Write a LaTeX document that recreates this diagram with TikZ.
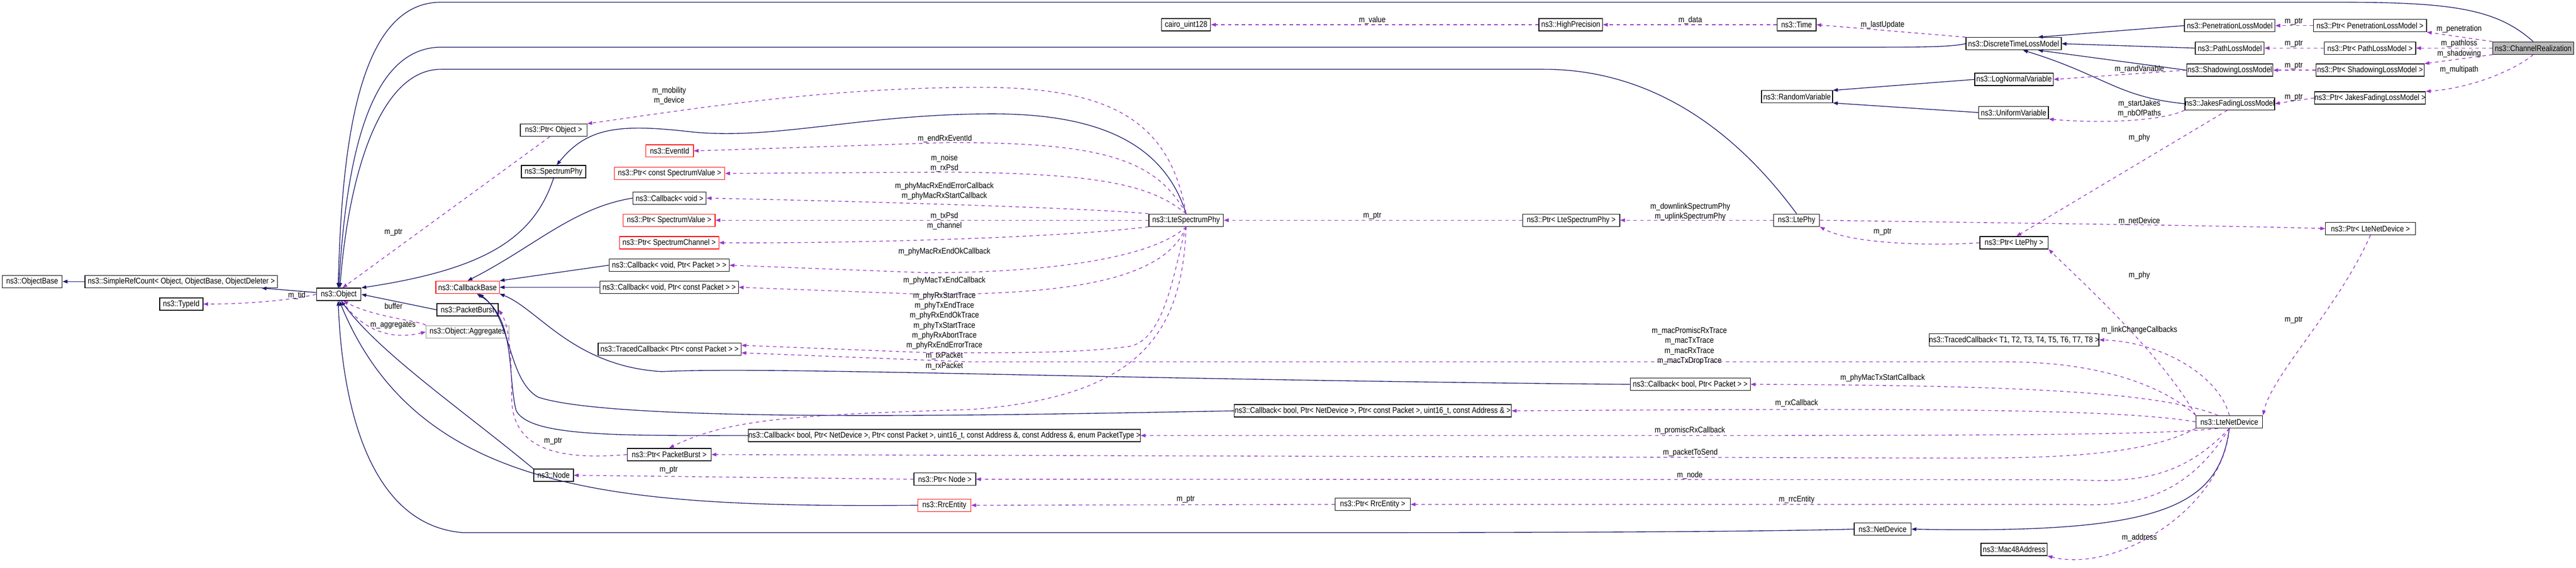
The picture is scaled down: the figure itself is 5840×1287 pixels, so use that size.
\documentclass[tikz,border=0pt]{standalone}
\usepackage{fontspec}
\setmainfont{Liberation Sans}[FakeStretch=0.86]
\usepackage{tikz}
\usetikzlibrary{arrows.meta}
\definecolor{dxnavy}{RGB}{25,25,112}
\definecolor{dxpurple}{RGB}{153,51,204}
\definecolor{dxred}{RGB}{255,0,0}

\begin{document}
\begin{tikzpicture}[x=0.01cm, y=-0.01cm,
  box/.style={draw=black, line width=0.45pt, fill=white, minimum height=0.28cm, inner sep=0pt, font=\fontsize{5.3}{6}\selectfont},
  redbox/.style={box, draw=dxred},
  greybox/.style={box, draw=gray!50},
  lbl/.style={inner sep=0pt, align=center, font=\fontsize{5.3}{6.4}\selectfont},
  inh/.style={draw=dxnavy, line width=0.45pt, -{Triangle[length=0.11cm,width=0.08cm]}},
  use/.style={draw=dxpurple, line width=0.45pt, dashed, dash pattern=on 2.2pt off 2.2pt, -{Triangle[length=0.11cm,width=0.08cm]}}]
\useasboundingbox (0,0) rectangle (5840,1287);

% Base classes
\node[box, minimum width=1.36cm] (objbase) at (73,638) {ns3::ObjectBase};
\node[box, minimum width=4.36cm] (simple) at (411,638) {ns3::SimpleRefCount< Object, ObjectBase, ObjectDeleter >};
\node[box, minimum width=1.01cm] (object) at (768,667) {ns3::Object};
\node[box, minimum width=0.98cm] (typeid) at (411,689) {ns3::TypeId};

% Column left of LteSpectrumPhy
\node[box, minimum width=1.51cm] (pobj) at (1255,295) {ns3::Ptr< Object >};
\node[box, minimum width=1.46cm] (sphy) at (1255,389) {ns3::SpectrumPhy};
\node[redbox, minimum width=1.08cm] (evid) at (1518,342) {ns3::EventId};
\node[redbox, minimum width=2.50cm] (pcsv) at (1518,393) {ns3::Ptr< const SpectrumValue >};
\node[box, minimum width=1.66cm] (cbv) at (1518,449) {ns3::Callback< void >};
\node[redbox, minimum width=2.08cm] (psv) at (1517,499) {ns3::Ptr< SpectrumValue >};
\node[redbox, minimum width=2.25cm] (pschan) at (1517,550) {ns3::Ptr< SpectrumChannel >};
\node[box, minimum width=2.72cm] (cbvp) at (1517,601) {ns3::Callback< void, Ptr< Packet > >};
\node[redbox, minimum width=1.44cm] (cbase) at (1060,651) {ns3::CallbackBase};
\node[box, minimum width=3.14cm] (cbvcp) at (1517,651) {ns3::Callback< void, Ptr< const Packet > >};
\node[box, minimum width=1.39cm] (pburst) at (1060,702) {ns3::PacketBurst};
\node[greybox, minimum width=1.88cm] (agg) at (1060,752) {ns3::Object::Aggregates};
\node[box, minimum width=3.24cm] (tcb) at (1518,791) {ns3::TracedCallback< Ptr< const Packet > >};
\node[box, minimum width=8.73cm] (cbe) at (2141,987) {ns3::Callback< bool, Ptr< NetDevice >, Ptr< const Packet >, uint16\_t, const Address \&, const Address \&, enum PacketType >};
\node[box, minimum width=1.90cm] (ppb) at (1517,1030) {ns3::Ptr< PacketBurst >};
\node[box, minimum width=0.90cm] (node) at (1255,1077) {ns3::Node};
\node[box, minimum width=1.40cm] (pnode) at (2142,1086) {ns3::Ptr< Node >};
\node[redbox, minimum width=1.20cm] (rrc) at (2141,1145) {ns3::RrcEntity};

% Middle
\node[box, minimum width=1.11cm] (cairo) at (2689,56) {cairo\_uint128};
\node[box, minimum width=1.69cm] (lsp) at (2689,499) {ns3::LteSpectrumPhy};
\node[box, minimum width=6.28cm] (cba) at (3112,931) {ns3::Callback< bool, Ptr< NetDevice >, Ptr< const Packet >, uint16\_t, const Address \& >};
\node[box, minimum width=1.70cm] (prrc) at (3112,1143) {ns3::Ptr< RrcEntity >};
\node[box, minimum width=1.44cm] (highp) at (3561,56) {ns3::HighPrecision};
\node[box, minimum width=2.20cm] (plsp) at (3562,499) {ns3::Ptr< LteSpectrumPhy >};
\node[box, minimum width=2.72cm] (cbbp) at (3832,871) {ns3::Callback< bool, Ptr< Packet > >};
\node[box, minimum width=0.88cm] (time) at (4073,56) {ns3::Time};
\node[box, minimum width=1.61cm] (randv) at (4074,219) {ns3::RandomVariable};
\node[box, minimum width=1.04cm] (ltephy) at (4073,499) {ns3::LtePhy};
\node[box, minimum width=1.29cm] (netdev) at (4268,1199) {ns3::NetDevice};
\node[box, minimum width=3.68cm] (tcbt) at (4566,770) {ns3::TracedCallback< T1, T2, T3, T4, T5, T6, T7, T8 >};

% Right part
\node[box, minimum width=2.16cm] (dtlm) at (4565,99) {ns3::DiscreteTimeLossModel};
\node[box, minimum width=1.78cm] (lognorm) at (4566,180) {ns3::LogNormalVariable};
\node[box, minimum width=1.58cm] (uniform) at (4565,255) {ns3::UniformVariable};
\node[box, minimum width=1.55cm] (pltephy) at (4566,550) {ns3::Ptr< LtePhy >};
\node[box, minimum width=1.50cm] (mac) at (4566,1245) {ns3::Mac48Address};
\node[box, minimum width=2.05cm] (pen) at (5055,58) {ns3::PenetrationLossModel};
\node[box, minimum width=1.56cm] (path) at (5055,109) {ns3::PathLossModel};
\node[box, minimum width=1.95cm] (shad) at (5055,159) {ns3::ShadowingLossModel};
\node[box, minimum width=2.02cm] (jakes) at (5055,235) {ns3::JakesFadingLossModel};
\node[box, minimum width=1.51cm] (lnd) at (5054,956) {ns3::LteNetDevice};
\node[box, minimum width=2.56cm] (ppen) at (5373,58) {ns3::Ptr< PenetrationLossModel >};
\node[box, minimum width=2.07cm] (ppath) at (5373,109) {ns3::Ptr< PathLossModel >};
\node[box, minimum width=2.45cm] (pshad) at (5373,159) {ns3::Ptr< ShadowingLossModel >};
\node[box, minimum width=2.51cm] (pjakes) at (5373,222) {ns3::Ptr< JakesFadingLossModel >};
\node[box, minimum width=2.04cm] (plnd) at (5374,518) {ns3::Ptr< LteNetDevice >};
\node[box, fill=gray!55, minimum width=1.83cm] (chan) at (5743,109) {ns3::ChannelRealization};

% Inheritance
\draw[inh] (simple) -- (objbase);
\draw[inh] (object) -- (simple);
\draw[inh] (chan.north) .. controls (5660,20) and (5560,5) .. (5300,5) -- (1000,5) .. controls (820,5) and (775,300) .. (object.95);
\draw[inh] (dtlm.west) .. controls (4420,107) and (4350,107) .. (4200,107) -- (1000,107) .. controls (840,107) and (785,350) .. (object.90);
\draw[inh] (ltephy.north) .. controls (3900,250) and (3700,157) .. (3500,157) -- (1000,157) .. controls (860,157) and (790,400) .. (object.80);
\draw[inh] (sphy.south) .. controls (1210,540) and (1100,610) .. (object.north east);
\draw[inh] (pburst.west) -- (object.east);
\draw[inh] (node.north west) .. controls (1050,930) and (860,800) .. (object.-70);
\draw[inh] (rrc.west) .. controls (1400,1150) and (950,1120) .. (object.-85);
\draw[inh] (netdev.west) .. controls (4000,1205) and (3500,1207) .. (3000,1207) -- (1050,1207) .. controls (830,1190) and (775,900) .. (object.-95);
\draw[inh] (lsp.north) .. controls (2640,330) and (2500,258) .. (2250,258) .. controls (1950,258) and (1750,320) .. (1560,298) .. controls (1400,280) and (1330,290) .. (sphy.65);
\draw[inh] (cbv.west) .. controls (1300,470) and (1210,560) .. (cbase.north);
\draw[inh] (cbvp.west) -- (cbase.north east);
\draw[inh] (cbvcp.west) -- (cbase.east);
\draw[inh] (cbbp.west) .. controls (2500,860) and (1750,830) .. (1500,842) .. controls (1300,830) and (1220,700) .. (cbase.south east);
\draw[inh] (cba.west) .. controls (2300,940) and (1400,960) .. (1220,900) .. controls (1150,860) and (1160,720) .. (cbase.-30);
\draw[inh] (cbe.west) .. controls (1400,987) and (1200,990) .. (1170,930) .. controls (1150,850) and (1170,720) .. (cbase.-35);
\draw[inh] (pen.west) -- (dtlm.15);
\draw[inh] (path.west) -- (dtlm.east);
\draw[inh] (shad.west) -- (dtlm.-15);
\draw[inh] (jakes.west) .. controls (4800,220) and (4770,170) .. (dtlm.-35);
\draw[inh] (lognorm.west) -- (randv.10);
\draw[inh] (uniform.west) -- (randv.-10);
\draw[inh] (lnd.south) .. controls (5030,1150) and (4900,1210) .. (netdev.east);

% Usage
\draw[use] (object.west) .. controls (650,682) and (550,689) .. (typeid.east);
\draw[use] (pobj.240) -- (object.60);
\draw[use] (agg.north west) .. controls (960,728) and (850,720) .. (object.-55);
\draw[use] (object.-65) .. controls (830,760) and (900,768) .. (agg.west);
\draw[use] (lsp.north) .. controls (2650,260) and (2500,195) .. (2200,198) .. controls (1850,200) and (1550,250) .. (pobj.north east);
\draw[use] (lsp.north) .. controls (2620,360) and (2500,323) .. (2150,323) -- (evid.east);
\draw[use] (lsp.north) .. controls (2610,420) and (2500,393) .. (2150,390) -- (pcsv.east);
\draw[use] (lsp.north west) .. controls (2450,470) and (1900,455) .. (cbv.east);
\draw[use] (lsp.west) -- (psv.east);
\draw[use] (lsp.south west) .. controls (2400,540) and (1900,552) .. (pschan.east);
\draw[use] (lsp.south) .. controls (2620,580) and (2400,618) .. (2100,618) -- (cbvp.east);
\draw[use] (lsp.south) .. controls (2640,640) and (2400,667) .. (2100,667) -- (cbvcp.east);
\draw[use] (lsp.south) .. controls (2660,620) and (2640,770) .. (2560,785) .. controls (2450,800) and (2300,800) .. (2100,799) -- (tcb.3);
\draw[use] (lsp.south) .. controls (2680,760) and (2580,900) .. (2200,928) .. controls (1800,940) and (1650,950) .. (ppb.north);
\draw[use] (ppb.west) .. controls (1250,1045) and (1160,1010) .. (1160,900) .. controls (1160,780) and (1150,730) .. (pburst.east);
\draw[use] (plsp.west) -- (lsp.east);
\draw[use] (highp.west) -- (cairo.east);
\draw[use] (time.west) -- (highp.east);
\draw[use] (dtlm.north west) -- (time.east);
\draw[use] (ltephy.west) -- (plsp.east);
\draw[use] (pltephy.west) .. controls (4400,557) and (4200,555) .. (ltephy.south east);
\draw[use] (ltephy.east) .. controls (4500,505) and (5000,510) .. (plnd.west);
\draw[use] (jakes.250) -- (pltephy.70);
\draw[use] (lnd.north west) .. controls (4900,800) and (4700,620) .. (pltephy.south east);
\draw[use] (plnd.south) .. controls (5300,700) and (5150,850) .. (lnd.north east);
\draw[use] (chan.north west) -- (ppen.south east);
\draw[use] (chan.west) -- (ppath.east);
\draw[use] (chan.south west) -- (pshad.north east);
\draw[use] (chan.south) .. controls (5700,160) and (5600,200) .. (pjakes.north east);
\draw[use] (ppen.west) -- (pen.east);
\draw[use] (ppath.west) -- (path.east);
\draw[use] (pshad.west) -- (shad.east);
\draw[use] (pjakes.west) -- (jakes.east);
\draw[use] (shad.west) -- (lognorm.east);
\draw[use] (jakes.south west) .. controls (4900,275) and (4760,280) .. (uniform.south east);
\draw[use] (lnd.north) .. controls (5030,850) and (4900,775) .. (tcbt.east);
\draw[use] (lnd.north west) .. controls (4900,870) and (4750,820) .. (4550,820) -- (2200,820) -- (tcb.-3);
\draw[use] (lnd.150) .. controls (4900,890) and (4600,873) .. (cbbp.east);
\draw[use] (lnd.west) .. controls (4800,925) and (4300,925) .. (cba.east);
\draw[use] (lnd.210) .. controls (4900,985) and (4600,987) .. (3700,987) -- (cbe.east);
\draw[use] (lnd.south west) .. controls (4850,1040) and (4600,1038) .. (4400,1038) -- (ppb.east);
\draw[use] (lnd.south) .. controls (4950,1080) and (4850,1095) .. (4700,1087) -- (pnode.east);
\draw[use] (pnode.west) -- (node.east);
\draw[use] (lnd.south) .. controls (4960,1120) and (4850,1150) .. (4700,1143) -- (prrc.east);
\draw[use] (prrc.west) -- (rrc.east);
\draw[use] (lnd.south) .. controls (5040,1150) and (4800,1300) .. (mac.south east);

% Labels
\node[lbl] (lTid) at (673,670) {m\_tid};
\node[lbl] (lBuf) at (892,693) {buffer};
\node[lbl] (lAgg) at (891,737) {m\_aggregates};
\node[lbl] (lPtrObj) at (892,527) {m\_ptr};
\node[lbl] (lMob) at (1517,217) {m\_mobility\\m\_device};
\node[lbl] (lEv) at (2142,314) {m\_endRxEventId};
\node[lbl] (lNoise) at (2141,370) {m\_noise\\m\_rxPsd};
\node[lbl] (lRxCb) at (2141,433) {m\_phyMacRxEndErrorCallback\\m\_phyMacRxStartCallback};
\node[lbl] (lTxPsd) at (2141,490) {m\_txPsd};
\node[lbl] (lChan) at (2141,512) {m\_channel};
\node[lbl] (lRxOk) at (2141,570) {m\_phyMacRxEndOkCallback};
\node[lbl] (lTxEnd) at (2141,636) {m\_phyMacTxEndCallback};
\node[lbl] (lTraces) at (2141,727) {m\_phyRxStartTrace\\m\_phyTxEndTrace\\m\_phyRxEndOkTrace\\m\_phyTxStartTrace\\m\_phyRxAbortTrace\\m\_phyRxEndErrorTrace};
\node[lbl] (lPkt) at (2141,818) {m\_txPacket\\m\_rxPacket};
\node[lbl] (lPtrPb) at (1254,1000) {m\_ptr};
\node[lbl] (lPtrNode) at (1516,1065) {m\_ptr};
\node[lbl] (lPtrRrc) at (2688,1132) {m\_ptr};
\node[lbl] (lValue) at (3111,46) {m\_value};
\node[lbl] (lPtrLsp) at (3111,489) {m\_ptr};
\node[lbl] (lData) at (3832,46) {m\_data};
\node[lbl] (lUpd) at (4268,57) {m\_lastUpdate};
\node[lbl] (lSpec) at (3832,480) {m\_downlinkSpectrumPhy\\m\_uplinkSpectrumPhy};
\node[lbl] (lPtrPhy) at (4268,526) {m\_ptr};
\node[lbl] (lMacTr) at (3830,784) {m\_macPromiscRxTrace\\m\_macTxTrace\\m\_macRxTrace\\m\_macTxDropTrace};
\node[lbl] (lTxStart) at (4268,856) {m\_phyMacTxStartCallback};
\node[lbl] (lRxCallback) at (4073,914) {m\_rxCallback};
\node[lbl] (lPromisc) at (3831,976) {m\_promiscRxCallback};
\node[lbl] (lSend) at (3832,1026) {m\_packetToSend};
\node[lbl] (lNode) at (3831,1077) {m\_node};
\node[lbl] (lRrc) at (4073,1132) {m\_rrcEntity};
\node[lbl] (lPtrPen) at (5200,49) {m\_ptr};
\node[lbl] (lPtrPath) at (5200,99) {m\_ptr};
\node[lbl] (lPtrShad) at (5200,149) {m\_ptr};
\node[lbl] (lPtrJakes) at (5200,221) {m\_ptr};
\node[lbl] (lPen) at (5575,66) {m\_penetration};
\node[lbl] (lPath) at (5575,98) {m\_pathloss};
\node[lbl] (lShad) at (5575,122) {m\_shadowing};
\node[lbl] (lMulti) at (5575,158) {m\_multipath};
\node[lbl] (lRand) at (4850,157) {m\_randVariable};
\node[lbl] (lJakes) at (4850,246) {m\_startJakes\\m\_nbOfPaths};
\node[lbl] (lPhy1) at (4850,312) {m\_phy};
\node[lbl] (lNetDev) at (4850,501) {m\_netDevice};
\node[lbl] (lPhy2) at (4850,624) {m\_phy};
\node[lbl] (lLink) at (4850,748) {m\_linkChangeCallbacks};
\node[lbl] (lPtrLnd) at (5200,725) {m\_ptr};
\node[lbl] (lAddr) at (4850,1219) {m\_address};
\end{tikzpicture}
\end{document}
